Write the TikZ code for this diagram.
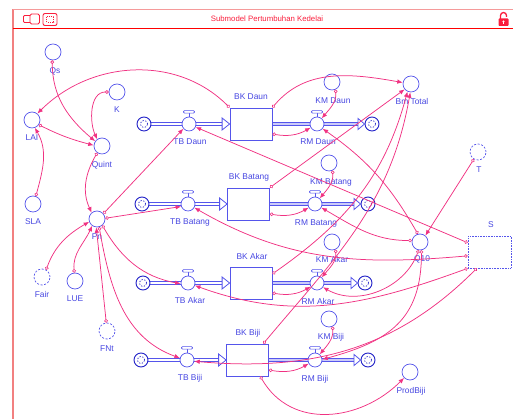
\documentclass[tikz,border=0pt]{standalone}
\usepackage{fontspec}
\setmainfont{Liberation Sans}
\usetikzlibrary{arrows.meta,calc}
\definecolor{cblue}{RGB}{85,85,235}
\definecolor{ctext}{RGB}{70,70,225}
\definecolor{cdark}{RGB}{35,35,200}
\definecolor{cpink}{RGB}{240,50,130}
\definecolor{cframe}{RGB}{242,128,128}
\definecolor{cred}{RGB}{250,30,60}
\pgfdeclarelayer{bg}
\pgfsetlayers{bg,main}
\newcommand{\drawvalvecap}[1]{%
  \draw[cblue, line width=0.7pt] (#1.north) -- ++(0,3.5);
  \draw[cblue, line width=0.7pt, fill=white, rounded corners=1pt]
    ($(#1.north)+(-5.5,3.5)$) rectangle ($(#1.north)+(5.5,6)$);}
\begin{document}
\begin{tikzpicture}[x=1pt,y=1pt,font=\fontsize{8.4}{10}\selectfont,
  conv/.style={circle, draw=cblue, line width=0.7pt, fill=white, minimum size=16pt, inner sep=0pt},
  ghost/.style={conv, dash pattern=on 2pt off 1.6pt},
  stockbox/.style={rectangle, draw=cblue, line width=0.8pt, fill=white, minimum width=42pt, minimum height=32pt, inner sep=0pt},
  valve/.style={circle, draw=cblue, line width=0.7pt, fill=white, minimum size=14pt, inner sep=0pt},
  cloudnode/.style={circle, draw=cdark, line width=0.9pt, fill=white, minimum size=14pt, inner sep=0pt,
    path picture={\draw[cdark, line width=0.7pt, dash pattern=on 1.3pt off 1.6pt]
      (path picture bounding box.center) circle (3.6pt);}},
  lbl/.style={text=ctext, anchor=base, inner sep=0pt},
  conn/.style={draw=cpink, line width=0.75pt,
    {Circle[length=3.6pt,width=3.6pt,fill=white,line width=0.6pt]}-{Latex[length=5.5pt,width=4.5pt]}},
  pipe/.style={draw=cblue, line width=0.7pt, double=white, double distance=2.2pt},
  outpipe/.style={pipe, double=cblue!30},
  flowhead/.style={draw=cblue, line width=0.8pt, fill=white, line join=miter}]

\useasboundingbox (0,0) rectangle (513,419);

% window frame and title bar
\draw[cframe, line width=1.6pt] (13,0) -- (13,410);
\draw[cframe!80, line width=0.8pt] (13,410) -- (513,410);
\draw[red, line width=0.8pt] (13,391) -- (513,391);
\node[text=cred, font=\fontsize{7.8}{9}\selectfont] (title) at (267,400.5) {Submodel Pertumbuhan Kedelai};
\draw[cred, line width=0.9pt, rounded corners=1pt] (23.5,396.5) rectangle (32,403.5);
\draw[cred, line width=0.9pt, fill=white, rounded corners=1.5pt] (30,395) rectangle (39.5,405);
\draw[cred, line width=0.9pt, rounded corners=2pt] (43,393.5) rectangle (57,405.5);
\draw[cred, line width=0.6pt, dash pattern=on 1pt off 1pt] (46.5,396.5) rectangle (53.5,402.5);
\draw[cred, line width=1.3pt] (500.5,400) -- (500.5,403.5) arc[start angle=180, end angle=0, radius=3] -- (506.5,402);
\fill[cred, rounded corners=0.8pt] (498.5,393) rectangle (508.5,400.5);
\fill[white] (503.5,397.5) circle (1.1);
\fill[white] (503,394.5) rectangle (504,397.5);

% converters
\node[conv] (qs) at (53,367) {};
\node[conv] (k) at (117,327) {};
\node[conv] (lai) at (32,299) {};
\node[conv] (quint) at (102,273) {};
\node[conv] (sla) at (33,215) {};
\node[conv] (pn) at (97,200) {};
\node[ghost] (fair) at (42,142) {};
\node[conv] (lue) at (75,138) {};
\node[ghost] (fnt) at (107,88) {};
\node[conv] (kmdaun) at (332,337) {};
\node[conv] (bmtotal) at (411,335) {};
\node[conv] (kmbatang) at (329,256) {};
\node[conv] (kmakar) at (332,177) {};
\node[conv] (kmbiji) at (329,100) {};
\node[conv] (prodbiji) at (410,47) {};
\node[ghost] (t) at (478,267) {};
\node[conv] (q10) at (420,177) {};
\node[draw=cblue, line width=0.7pt, dash pattern=on 0.8pt off 0.8pt, minimum width=43pt, minimum height=32pt, inner sep=0pt] (s) at (489.5,167) {};

% stocks
\node[stockbox] (bkdaun) at (251,295) {};
\node[stockbox] (bkbatang) at (248.5,215) {};
\node[stockbox] (bkakar) at (251,136) {};
\node[stockbox] (bkbiji) at (247.5,59) {};

% sources and sinks
\node[cloudnode] (cdL) at (144,295) {};
\node[cloudnode] (cdR) at (372,295) {};
\node[cloudnode] (cbL) at (142,215) {};
\node[cloudnode] (cbR) at (368,215) {};
\node[cloudnode] (caL) at (143,136) {};
\node[cloudnode] (caR) at (365,136) {};
\node[cloudnode] (cjL) at (141,59) {};
\node[cloudnode] (cjR) at (368,59) {};

% flow pipes
\begin{pgfonlayer}{bg}
\foreach \cl/\st/\cr in {cdL/bkdaun/cdR, cbL/bkbatang/cbR, caL/bkakar/caR, cjL/bkbiji/cjR} {
  \draw[pipe] (\cl.east) -- ($(\st.west)+(-7,0)$);
  \draw[outpipe] (\st.east) -- ($(\cr.west)+(-6,0)$);
}
\end{pgfonlayer}
\foreach \st/\cr in {bkdaun/cdR, bkbatang/cbR, bkakar/caR, bkbiji/cjR} {
  \draw[flowhead] ($(\st.west)+(-7.5,6)$) -- (\st.west) -- ($(\st.west)+(-7.5,-6)$) -- cycle;
  \draw[flowhead] ($(\cr.west)+(-6.5,5.5)$) -- (\cr.west) -- ($(\cr.west)+(-6.5,-5.5)$) -- cycle;
}

% valves
\node[valve] (tbdaun) at (189,295) {};
\node[valve] (rmdaun) at (317,295) {};
\node[valve] (tbbatang) at (188,215) {};
\node[valve] (rmbatang) at (315,215) {};
\node[valve] (tbakar) at (188,136) {};
\node[valve] (rmakar) at (317,136) {};
\node[valve] (tbbiji) at (187,59) {};
\node[valve] (rmbiji) at (315,59) {};
\foreach \v in {tbdaun,rmdaun,tbbatang,rmbatang,tbakar,rmakar,tbbiji,rmbiji} {\drawvalvecap{\v}}

% labels
\node[lbl] (lqs) at (55,345) {Qs};
\node[lbl] (lk) at (117,306) {K};
\node[lbl] (llai) at (32,278) {LAI};
\node[lbl] (lquint) at (102,251) {Quint};
\node[lbl] (lsla) at (33,194) {SLA};
\node[lbl] (lpn) at (97,179) {Pn};
\node[lbl] (lfair) at (42,121) {Fair};
\node[lbl] (llue) at (75,117) {LUE};
\node[lbl] (lfnt) at (107,67) {FNt};
\node[lbl] (lkmdaun) at (333,315) {KM Daun};
\node[lbl] (lbmtotal) at (412,314) {Bm Total};
\node[lbl] (lkmbatang) at (331,234) {KM Batang};
\node[lbl] (lkmakar) at (332,156) {KM Akar};
\node[lbl] (lkmbiji) at (331,79) {KM Biji};
\node[lbl] (lprodbiji) at (411,25) {ProdBiji};
\node[lbl] (lt) at (479,246) {T};
\node[lbl] (lq10) at (422,157) {Q10};
\node[lbl] (ls) at (491,191) {S};
\node[lbl] (lbkdaun) at (251,319) {BK Daun};
\node[lbl] (lbkbatang) at (249,239) {BK Batang};
\node[lbl] (lbkakar) at (252,159) {BK Akar};
\node[lbl] (lbkbiji) at (248,83) {BK Biji};
\node[lbl] (ltbdaun) at (190,274) {TB Daun};
\node[lbl] (lrmdaun) at (318,274) {RM Daun};
\node[lbl] (ltbbatang) at (190,194) {TB Batang};
\node[lbl] (lrmbatang) at (316,193) {RM Batang};
\node[lbl] (ltbakar) at (190,115) {TB Akar};
\node[lbl] (lrmakar) at (318,114) {RM Akar};
\node[lbl] (ltbbiji) at (190,38) {TB Biji};
\node[lbl] (lrmbiji) at (315,37) {RM Biji};

% connectors: leaf area and photosynthesis
\draw[conn] (qs.-95) to[out=-90,in=140] (quint.145);
\draw[conn] (k.180) to[out=180,in=115] (quint.125);
\draw[conn] (lai.-35) to[bend right=6] (quint.175);
\draw[conn] (bkdaun.north west) to[out=135,in=45] (lai.50);
\draw[conn] (sla.70) to[out=75,in=-60] (lai.-70);
\draw[conn] (quint.-125) to[out=-120,in=115] (pn.130);
\draw[conn] (fair.60) to[out=70,in=-150] (pn.-160);
\draw[conn] (lue.95) to[out=95,in=-115] (pn.-125);
\draw[conn] (fnt.95) -- (pn.-95);
\draw[conn] (pn.40) -- (tbdaun.-140);
\draw[conn] (pn.5) -- (tbbatang.200);
\draw[conn] (pn.-50) to[out=-60,in=170] (tbakar.185);
\draw[conn] (pn.-75) to[out=-80,in=160] (tbbiji.165);

% connectors: maintenance respiration
\foreach \st/\km/\rm in {bkdaun/kmdaun/rmdaun, bkbatang/kmbatang/rmbatang, bkakar/kmakar/rmakar, bkbiji/kmbiji/rmbiji} {
  \draw[conn] (\st.-25) to[out=-10,in=-150] (\rm.-150);
  \draw[conn] (\km.-65) to[out=-85,in=50] (\rm.50);
}

% connectors: total biomass and yield
\draw[conn] (bkdaun.north east) to[out=50,in=170] (bmtotal.170);
\draw[conn] (bkbatang.north east) -- (bmtotal.-140);
\draw[conn] (bkakar.23) to[out=35,in=-105] (bmtotal.-115);
\draw[conn] (bkbiji.46) to[out=50,in=-100] (bmtotal.-95);
\draw[conn] (bkbiji.-52) to[out=-60,in=-135,looseness=1.1] (prodbiji.-135);

% connectors: temperature
\draw[conn] (t.-120) -- (q10.50);
\draw[conn] (q10.105) to[out=120,in=-35] (rmdaun.-40);
\draw[conn] (q10.170) to[out=180,in=-30] (rmbatang.-30);
\draw[conn] (q10.-100) to[out=-110,in=-30] (rmakar.-35);
\draw[conn] (q10.-80) to[out=-90,in=15,looseness=1.2] (rmbiji.5);

% connectors: partitioning
\draw[conn] (s.157) -- (tbdaun.-25);
\draw[conn] (s.190) to[out=185,in=-30] (tbbatang.-30);
\draw[conn] (s.south west) to[out=200,in=-20] (tbakar.-20);
\draw[conn] (s.-128) to[out=225,in=-5] (tbbiji.-10);
\end{tikzpicture}
\end{document}
